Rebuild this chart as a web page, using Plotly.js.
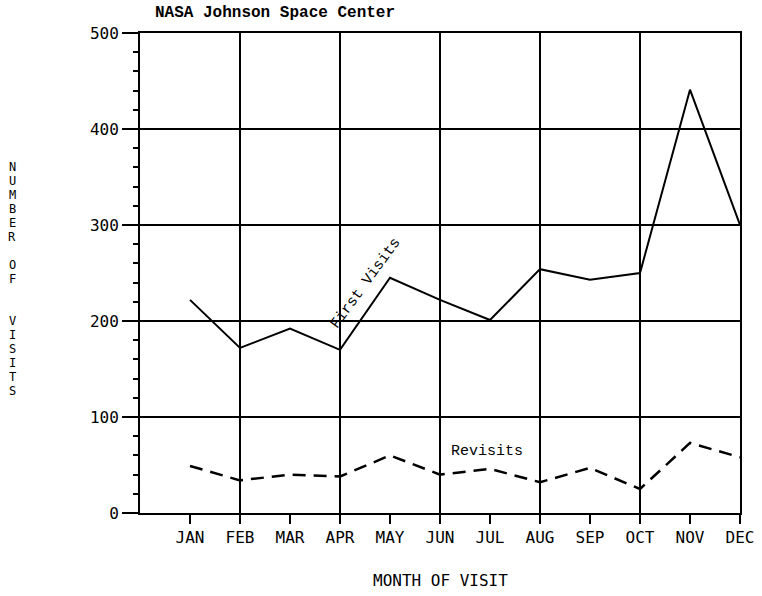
<!DOCTYPE html>
<html>
<head>
<meta charset="utf-8">
<script src="https://cdn.plot.ly/plotly-3.0.1.min.js"></script>
<style>html,body{margin:0;padding:0;background:#fff;}#chart{width:762px;height:596px;}</style>
</head>
<body>
<div id="chart"></div>
<script>
const months = ["JAN","FEB","MAR","APR","MAY","JUN","JUL","AUG","SEP","OCT","NOV","DEC"];
const firstVisits = [222, 172, 192, 170, 245, 222, 201, 254, 243, 250, 441, 300];
const revisits = [49, 34, 40, 38, 60, 40, 46, 32, 47, 25, 73, 58];
const yTicks = [0, 100, 200, 300, 400, 500];
const gridMonths = ["FEB","APR","JUN","AUG","OCT"];
const yTitleLetters = ["N","U","M","B","E","R"," ","O","F"," "," ","V","I","S","I","T","S"];

const idx = months.map((m, i) => i);
const mono = "DejaVu Sans Mono, monospace";
const typew = "Liberation Mono, Courier New, monospace";

const traces = [
  {x: idx, y: firstVisits, type: "scatter", mode: "lines", name: "First Visits",
   line: {color: "#000", width: 2}, hoverinfo: "skip"},
  {x: idx, y: revisits, type: "scatter", mode: "lines", name: "Revisits",
   line: {color: "#000", width: 2.5, dash: "13px,8px"}, hoverinfo: "skip"}
];

const shapes = gridMonths.map(m => ({
  type: "line", xref: "x", yref: "y",
  x0: months.indexOf(m), x1: months.indexOf(m), y0: 0, y1: 500,
  line: {color: "#000", width: 2}, layer: "below"
}));

const plotTop = 33, plotH = 480, plotL = 140, plotW = 600;
const letterAnns = [];
yTitleLetters.forEach((ch, i) => {
  if (ch.trim() === "") return;
  const py = 167 + i * 14;
  letterAnns.push({
    text: ch, xref: "paper", yref: "paper",
    x: (12 - plotL) / plotW, y: 1 - (py - plotTop) / plotH,
    xanchor: "center", yanchor: "middle", showarrow: false, borderpad: 0,
    font: {family: mono, size: 12, color: "#000"}
  });
});

const layout = {
  width: 762, height: 596,
  margin: {l: 140, r: 22, t: 33, b: 83},
  paper_bgcolor: "#fff", plot_bgcolor: "#fff",
  showlegend: false,
  xaxis: {
    range: [-1, 11], tickvals: idx, ticktext: months,
    showgrid: false, zeroline: false,
    showline: true, linecolor: "#000", linewidth: 2, mirror: true,
    ticks: "outside", ticklen: 9, tickwidth: 2, tickcolor: "#000",
    ticklabelstandoff: 0,
    tickfont: {family: mono, size: 16, color: "#000"}
  },
  yaxis: {
    range: [0, 500], tickvals: yTicks,
    showgrid: true, gridcolor: "#000", gridwidth: 2, zeroline: false,
    showline: true, linecolor: "#000", linewidth: 2, mirror: true,
    ticks: "outside", ticklen: 16, tickwidth: 2, tickcolor: "#000",
    minor: {dtick: 20, ticks: "outside", ticklen: 5, tickwidth: 2, tickcolor: "#000", showgrid: false},
    tickfont: {family: mono, size: 16, color: "#000"}
  },
  shapes: shapes,
  annotations: [
    {text: "NASA Johnson Space Center", xref: "paper", yref: "paper",
     x: (153 - 140) / 600, y: 1 + (33 - 13) / 480, xanchor: "left", yanchor: "middle",
     showarrow: false, font: {family: typew, size: 16, color: "#000", weight: "bold"}},
    {text: "MONTH OF VISIT", xref: "paper", yref: "paper",
     x: 0.5, y: -(580 - 513) / 480, xanchor: "center", yanchor: "middle",
     showarrow: false, font: {family: mono, size: 16, color: "#000"}},
    {text: "First Visits", xref: "x", yref: "y", x: 3.52, y: 239,
     textangle: -54, showarrow: false, font: {family: typew, size: 15, color: "#000"}},
    {text: "Revisits", xref: "x", yref: "y", x: 5.94, y: 64,
     showarrow: false, font: {family: typew, size: 15, color: "#000"}}
  ].concat(letterAnns)
};

Plotly.newPlot("chart", traces, layout, {staticPlot: true, displayModeBar: false});
</script>
</body>
</html>
